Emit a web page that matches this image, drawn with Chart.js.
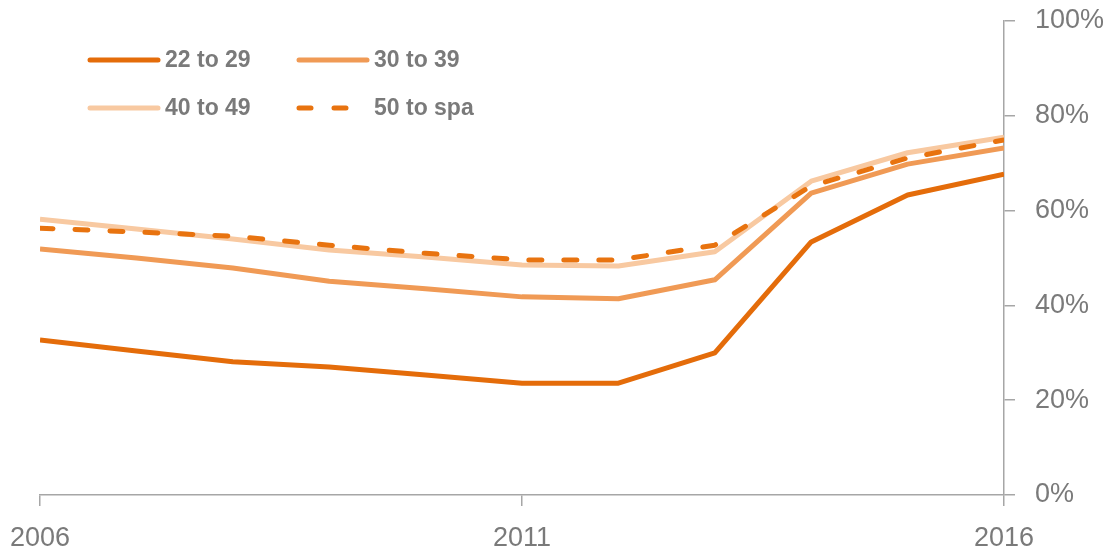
<!DOCTYPE html>
<html>
<head>
<meta charset="utf-8">
<script src="https://cdn.jsdelivr.net/npm/chart.js@4.4.0/dist/chart.umd.min.js"></script>
<style>
    html, body { margin: 0; padding: 0; background: #ffffff; }
    #wrap { width: 1110px; height: 549px; }
</style>
</head>
<body>
<div id="wrap"><canvas id="chart"></canvas></div>
<script>
const years = [2006, 2007, 2008, 2009, 2010, 2011, 2012, 2013, 2014, 2015, 2016];
const tickYears = [2006, 2011, 2016];
const seriesLabels = ['22 to 29', '30 to 39', '40 to 49', '50 to spa'];
const age22to29 = [32.7, 30.4, 28.1, 27.0, 25.3, 23.6, 23.6, 30.0, 53.4, 63.3, 67.7];
const age30to39 = [51.9, 50.0, 47.9, 45.1, 43.5, 41.8, 41.4, 45.4, 63.7, 69.8, 73.2];
const age40to49 = [58.2, 56.1, 54.0, 51.7, 50.2, 48.5, 48.3, 51.3, 66.2, 72.2, 75.5];
const age50toSpa = [56.3, 55.5, 54.6, 52.7, 51.0, 49.6, 49.6, 52.7, 65.2, 71.1, 74.9];

const textGrey = '#7a7a7a';
const axisGrey = '#a6a6a6';
const fontName = "'Liberation Sans', Arial, sans-serif";

function toPoints(values) {
    return values.map((v, i) => ({ x: years[i], y: v }));
}

function lineSet(label, values, color, order, dash) {
    return {
        label: label,
        data: toPoints(values),
        borderColor: color,
        backgroundColor: color,
        borderWidth: 5,
        borderDash: dash || [],
        borderCapStyle: dash ? 'round' : 'butt',
        borderJoinStyle: 'round',
        pointRadius: 0,
        tension: 0,
        fill: false,
        order: order
    };
}

// legend drawn inside the plot, two columns by two rows
const legendSlots = [
    { x: 88, y: 60 }, { x: 297, y: 60 },
    { x: 88, y: 108 }, { x: 297, y: 108 }
];

const insideLegend = {
    id: 'insideLegend',
    afterDraw(chart) {
        const ctx = chart.ctx;
        chart.data.datasets.forEach((ds, i) => {
            const slot = legendSlots[i];
            ctx.save();
            ctx.strokeStyle = ds.borderColor;
            ctx.lineWidth = 5;
            ctx.lineCap = 'round';
            ctx.setLineDash(ds.borderDash.length ? [12, 23] : []);
            ctx.beginPath();
            ctx.moveTo(slot.x + 2, slot.y);
            ctx.lineTo(slot.x + 70, slot.y);
            ctx.stroke();
            ctx.setLineDash([]);
            ctx.fillStyle = textGrey;
            ctx.font = "bold 23px " + fontName;
            ctx.textBaseline = 'middle';
            ctx.fillText(ds.label, slot.x + 77, slot.y + 1);
            ctx.restore();
        });
    }
};

const ctx = document.getElementById('chart').getContext('2d');
new Chart(ctx, {
    type: 'line',
    data: {
        datasets: [
            lineSet(seriesLabels[0], age22to29, '#e46c0a', 1),
            lineSet(seriesLabels[1], age30to39, '#f09a55', 2),
            lineSet(seriesLabels[2], age40to49, '#f8c9a1', 3),
            lineSet(seriesLabels[3], age50toSpa, '#e8730f', 0, [13, 22])
        ]
    },
    options: {
        responsive: true,
        maintainAspectRatio: false,
        animation: false,
        layout: {
            padding: { left: 40, top: 21, right: 0, bottom: 0 }
        },
        scales: {
            x: {
                type: 'linear',
                min: 2006,
                max: 2016,
                afterBuildTicks: axis => {
                    axis.ticks = tickYears.map(v => ({ value: v }));
                },
                afterFit: axis => {
                    axis.height = 54;
                    axis.paddingLeft = 0;
                    axis.paddingRight = 0;
                },
                grid: {
                    drawOnChartArea: false,
                    drawTicks: true,
                    tickLength: 11,
                    color: axisGrey,
                    lineWidth: 1.5
                },
                border: { display: true, color: axisGrey, width: 1.5 },
                ticks: {
                    color: textGrey,
                    font: { family: fontName, size: 27 },
                    padding: 16,
                    maxRotation: 0,
                    callback: v => String(v)
                }
            },
            y: {
                position: 'right',
                min: 0,
                max: 100,
                afterFit: axis => {
                    axis.width = 106;
                    axis.paddingTop = 0;
                    axis.paddingBottom = 0;
                },
                grid: {
                    drawOnChartArea: false,
                    drawTicks: true,
                    tickLength: 11,
                    color: axisGrey,
                    lineWidth: 1.5
                },
                border: { display: true, color: axisGrey, width: 1.5 },
                ticks: {
                    stepSize: 20,
                    color: textGrey,
                    font: { family: fontName, size: 27 },
                    padding: 20,
                    callback: v => v + '%'
                }
            }
        },
        plugins: {
            legend: { display: false },
            tooltip: { enabled: false }
        }
    },
    plugins: [insideLegend]
});
</script>
</body>
</html>
